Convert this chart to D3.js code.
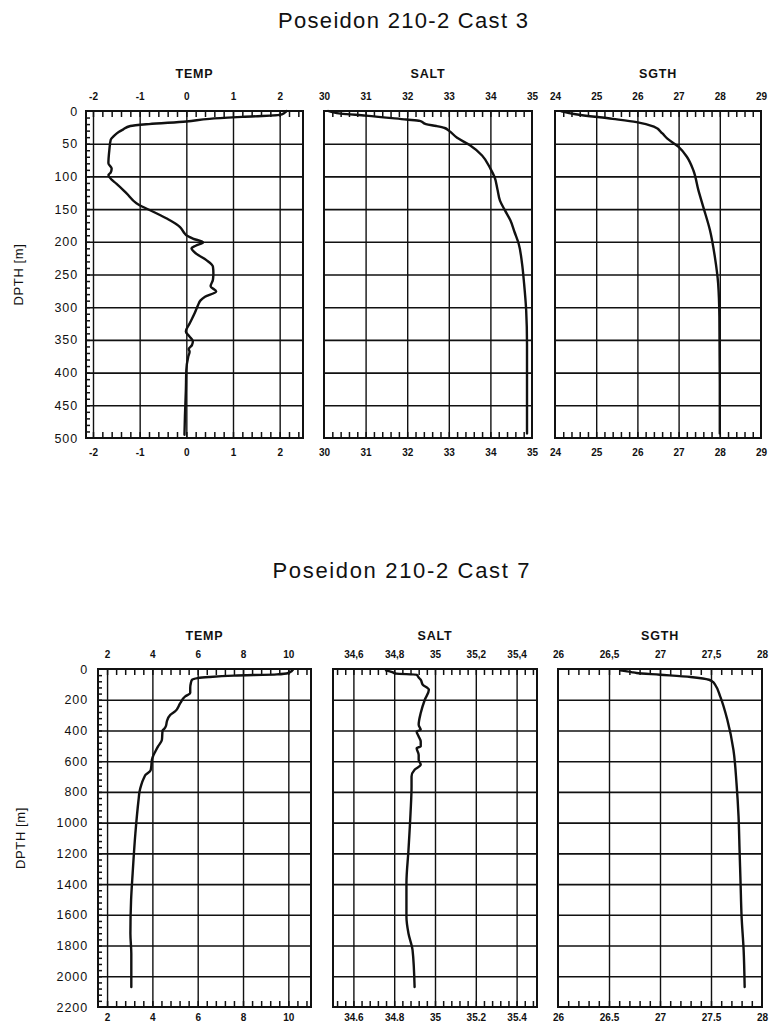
<!DOCTYPE html>
<html><head><meta charset="utf-8">
<script src="https://cdn.jsdelivr.net/npm/d3@7"></script>
<style>
html,body{margin:0;padding:0;background:#fff;}
svg{display:block;font-family:"Liberation Sans",Arial,sans-serif;}
</style></head>
<body>
<svg id="chart" width="769" height="1025"></svg>
<script>
// ---------------- DATA ----------------
const titles = ["Poseidon 210-2 Cast 3", "Poseidon 210-2  Cast 7"];
const panelNames = ["TEMP", "SALT", "SGTH"];
const yLabel = "DPTH [m]";

// Cast 3 depth ticks
const c3DepthTicks = [0, 50, 100, 150, 200, 250, 300, 350, 400, 450, 500];
// Cast 7 depth ticks
const c7DepthTicks = [0, 200, 400, 600, 800, 1000, 1200, 1400, 1600, 1800, 2000, 2200];

// x tick labels
const c3TempTicks = [-2, -1, 0, 1, 2];
const c3SaltTicks = [30, 31, 32, 33, 34, 35];
const c3SgthTicks = [24, 25, 26, 27, 28, 29];
const c7TempTicks = [2, 4, 6, 8, 10];
const c7SaltTicks = [34.6, 34.8, 35, 35.2, 35.4];
const c7SgthTicks = [26, 26.5, 27, 27.5, 28];

// Cast 3 profiles
const c3TempDepth = [0,3,6,9,12,16,20,23,28,32,38,44,60,80,88,94,98,105,111,126,141,146,151,164,177,186,190,195,201,206,210,218,228,238,248,258,268,276,284,290,297,309,325,337,345,352,358,364,368,376,396,427,467,495];
const c3Temp      = [2.15,2.1,2.0,1.2,0.5,0.0,-0.8,-1.2,-1.35,-1.45,-1.55,-1.62,-1.65,-1.67,-1.6,-1.62,-1.67,-1.6,-1.5,-1.28,-1.07,-0.95,-0.8,-0.43,-0.14,-0.05,0.0,0.14,0.36,0.2,0.11,0.21,0.43,0.57,0.58,0.57,0.52,0.64,0.4,0.3,0.25,0.18,0.07,-0.01,0.07,0.14,0.12,0.05,0.07,0.04,0.0,-0.01,-0.03,-0.04];

const c3SaltDepth = [0,4,7,13,15,20,23,26,30,41,52,68,88,101,120,137,152,167,185,203,233,264,305,356,417,493];
const c3Salt      = [30.1,30.4,31.0,31.98,32.3,32.45,32.7,32.9,33.0,33.2,33.5,33.8,34.0,34.1,34.17,34.23,34.35,34.48,34.58,34.68,34.76,34.81,34.86,34.88,34.88,34.88];

const c3SgthDepth = [0.5,5,12,17,24,34,42,55,70,91,121,147,182,223,264,315,417,493];
const c3Sgth      = [24.16,24.5,25.4,25.98,26.4,26.6,26.72,27.0,27.2,27.36,27.48,27.6,27.76,27.88,27.96,27.99,28.0,28.0];

// Cast 7 profiles
const c7TempDepth = [5,13,26,35,43,52,59,70,90,124,157,178,222,276,298,341,370,390,400,461,504,537,560,591,635,660,689,711,754,800,851,1069,1328,1504,1722,1852,2070];
const c7Temp      = [10.2,10.15,10.0,9.5,7.6,6.5,6.0,5.75,5.7,5.67,5.67,5.45,5.23,5.0,4.79,4.64,4.6,4.52,4.45,4.42,4.25,4.13,4.05,3.98,3.95,3.92,3.7,3.62,3.51,3.43,3.39,3.25,3.13,3.06,3.03,3.07,3.07];

const c7SaltDepth = [9,20,30,37,55,70,102,135,200,287,363,396,407,439,472,504,515,559,590,624,656,700,765,939,1178,1396,1613,1722,1830,2070];
const c7Salt      = [34.76,34.79,34.81,34.91,34.92,34.93,34.94,34.97,34.95,34.93,34.92,34.93,34.91,34.92,34.93,34.93,34.91,34.92,34.92,34.93,34.9,34.885,34.885,34.88,34.87,34.86,34.86,34.87,34.89,34.9];

const c7SgthDepth = [9,20,26,37,52,62,70,85,102,178,330,526,743,961,1178,1396,1613,1830,2070];
const c7Sgth      = [26.61,26.72,26.77,27.0,27.3,27.42,27.48,27.52,27.54,27.59,27.66,27.72,27.75,27.77,27.78,27.79,27.80,27.82,27.83];

// ---------------- DRAWING ----------------
const svg = d3.select("#chart");
const INK = "#111";
const FONT = "Liberation Sans, Arial, sans-serif";

function range(a, b, step) {
  const out = [];
  const n = Math.round((b - a) / step);
  for (let i = 0; i <= n; i++) out.push(+(a + i * step).toFixed(6));
  return out;
}

function drawPanel(cfg) {
  const x = d3.scaleLinear().domain(cfg.xDomain).range([cfg.left, cfg.right]);
  const y = d3.scaleLinear().domain([0, cfg.yMax]).range([cfg.top, cfg.bottom]);
  const g = svg.append("g");
  const h = cfg.bottom - cfg.top;
  const w = cfg.right - cfg.left;

  // horizontal grid
  g.append("g").attr("transform", `translate(${cfg.left},0)`)
    .call(d3.axisLeft(y).tickValues(cfg.yTicks.filter(v => v > 0 && v < cfg.yMax)).tickSize(-w).tickFormat(""))
    .call(s => s.select(".domain").remove())
    .selectAll("line").attr("stroke", INK).attr("stroke-width", 1.6);

  // vertical grid
  const inner = cfg.xTicks.filter(v => x(v) > cfg.left + 2 && x(v) < cfg.right - 2);
  g.append("g").attr("transform", `translate(0,${cfg.bottom})`)
    .call(d3.axisBottom(x).tickValues(inner).tickSize(-h).tickFormat(""))
    .call(s => s.select(".domain").remove())
    .selectAll("line").attr("stroke", INK).attr("stroke-width", 1.4);

  // minor ticks top & bottom (inward)
  const minors = range(cfg.minorStart, cfg.xDomain[1], cfg.minorStep).filter(v => x(v) > cfg.left + 2 && x(v) < cfg.right - 2);
  g.append("g").attr("transform", `translate(0,${cfg.top})`)
    .call(d3.axisTop(x).tickValues(minors).tickSize(-6).tickFormat(""))
    .call(s => s.select(".domain").remove())
    .selectAll("line").attr("stroke", INK).attr("stroke-width", 1.5);
  g.append("g").attr("transform", `translate(0,${cfg.bottom})`)
    .call(d3.axisBottom(x).tickValues(minors).tickSize(-6).tickFormat(""))
    .call(s => s.select(".domain").remove())
    .selectAll("line").attr("stroke", INK).attr("stroke-width", 1.5);

  // left axis (first panel)
  if (cfg.leftAxis) {
    const ym = range(0, cfg.yMax, cfg.yMinor).filter(v => v > 0 && v < cfg.yMax);
    g.append("g").attr("transform", `translate(${cfg.left},0)`)
      .call(d3.axisLeft(y).tickValues(ym).tickSize(-4).tickFormat(""))
      .call(s => s.select(".domain").remove())
      .selectAll("line").attr("stroke", INK).attr("stroke-width", 1.5);
    const la = g.append("g").attr("transform", `translate(${cfg.left},0)`)
      .call(d3.axisLeft(y).tickValues(cfg.yTicks).tickSize(0).tickPadding(cfg.yPad).tickFormat(d3.format("d")));
    la.select(".domain").remove();
    la.selectAll("text").attr("font-size", 12.5).attr("letter-spacing", 0.9)
      .attr("font-weight", "normal").attr("fill", INK).attr("font-family", FONT);
    svg.append("text")
      .attr("transform", `translate(${cfg.yLabelX},${(cfg.top + cfg.bottom) / 2}) rotate(-90)`)
      .attr("text-anchor", "middle").attr("font-size", 13).attr("letter-spacing", 0.6)
      .attr("font-family", FONT).attr("fill", INK).text(yLabel);
  }

  // frame
  g.append("rect").attr("x", cfg.left).attr("y", cfg.top).attr("width", w).attr("height", h)
    .attr("fill", "none").attr("stroke", INK).attr("stroke-width", 2);

  // tick labels top and bottom
  const ta = g.append("g").attr("transform", `translate(0,${cfg.top})`)
    .call(d3.axisTop(x).tickValues(cfg.xTicks).tickSize(0).tickPadding(cfg.topPad).tickFormat(cfg.topFmt));
  ta.select(".domain").remove();
  const ba = g.append("g").attr("transform", `translate(0,${cfg.bottom})`)
    .call(d3.axisBottom(x).tickValues(cfg.xTicks).tickSize(0).tickPadding(cfg.botPad).tickFormat(cfg.botFmt));
  ba.select(".domain").remove();
  [ta, ba].forEach(a => a.selectAll("text").attr("font-size", 10).attr("font-weight", "bold")
    .attr("fill", INK).attr("font-family", FONT));

  // panel title
  svg.append("text").attr("x", (cfg.left + cfg.right) / 2).attr("y", cfg.titleY)
    .attr("text-anchor", "middle").attr("font-size", 12.5).attr("font-weight", "bold")
    .attr("font-family", FONT).attr("letter-spacing", 0.8).attr("fill", INK).text(cfg.name);

  // profile
  const pts = cfg.depth.map((d, i) => [cfg.values[i], d]);
  g.append("path").datum(pts)
    .attr("d", d3.line().curve(d3.curveMonotoneY).x(p => x(p[0])).y(p => y(p[1])))
    .attr("fill", "none").attr("stroke", INK).attr("stroke-width", 2.4)
    .attr("stroke-linejoin", "round").attr("stroke-linecap", "round");
}

const fmtInt = d => String(d).replace("−", "-");
const fmtComma = d => String(d).replace(".", ",");
const fmtDot = d => String(d);

// ---- Cast 3 ----
svg.append("text").attr("x", 403).attr("y", 28).attr("text-anchor", "middle")
  .attr("font-size", 22).attr("font-family", FONT).attr("fill", INK)
  .attr("textLength", 250).attr("lengthAdjust", "spacing")
  .text(titles[0]);

const c3Common = { top: 111, bottom: 438, yMax: 500, yTicks: c3DepthTicks, yMinor: 10, titleY: 78, topPad: 11, botPad: 11 };
drawPanel(Object.assign({}, c3Common, { name: panelNames[0], left: 86, right: 303, xDomain: [-2.15, 2.5],
  xTicks: c3TempTicks, minorStart: -2.0, minorStep: 0.2, topFmt: fmtInt, botFmt: fmtInt,
  depth: c3TempDepth, values: c3Temp, leftAxis: true, yPad: 8, yLabelX: 23 }));
drawPanel(Object.assign({}, c3Common, { name: panelNames[1], left: 324, right: 532, xDomain: [30, 35],
  xTicks: c3SaltTicks, minorStart: 30, minorStep: 0.2, topFmt: fmtInt, botFmt: fmtInt,
  depth: c3SaltDepth, values: c3Salt }));
drawPanel(Object.assign({}, c3Common, { name: panelNames[2], left: 555, right: 761, xDomain: [24, 29],
  xTicks: c3SgthTicks, minorStart: 24, minorStep: 0.2, topFmt: fmtInt, botFmt: fmtInt,
  depth: c3SgthDepth, values: c3Sgth }));

// ---- Cast 7 ----
svg.append("text").attr("x", 401).attr("y", 578).attr("text-anchor", "middle")
  .attr("font-size", 22).attr("font-family", FONT).attr("fill", INK)
  .attr("textLength", 257).attr("lengthAdjust", "spacing")
  .text(titles[1]);

const c7Common = { top: 669, bottom: 1007, yMax: 2200, yTicks: c7DepthTicks, yMinor: 40, titleY: 640, topPad: 11, botPad: 7 };
drawPanel(Object.assign({}, c7Common, { name: panelNames[0], left: 98, right: 311, xDomain: [1.6, 11],
  xTicks: c7TempTicks, minorStart: 1.6, minorStep: 0.4, topFmt: fmtInt, botFmt: fmtInt,
  depth: c7TempDepth, values: c7Temp, leftAxis: true, yPad: 10, yLabelX: 25 }));
drawPanel(Object.assign({}, c7Common, { name: panelNames[1], left: 333, right: 537, xDomain: [34.5, 35.5],
  xTicks: c7SaltTicks, minorStart: 34.52, minorStep: 0.04, topFmt: fmtComma, botFmt: fmtDot,
  depth: c7SaltDepth, values: c7Salt }));
drawPanel(Object.assign({}, c7Common, { name: panelNames[2], left: 558, right: 762, xDomain: [26, 28],
  xTicks: c7SgthTicks, minorStart: 26, minorStep: 0.1, topFmt: fmtComma, botFmt: fmtDot,
  depth: c7SgthDepth, values: c7Sgth }));
</script>
</body></html>
